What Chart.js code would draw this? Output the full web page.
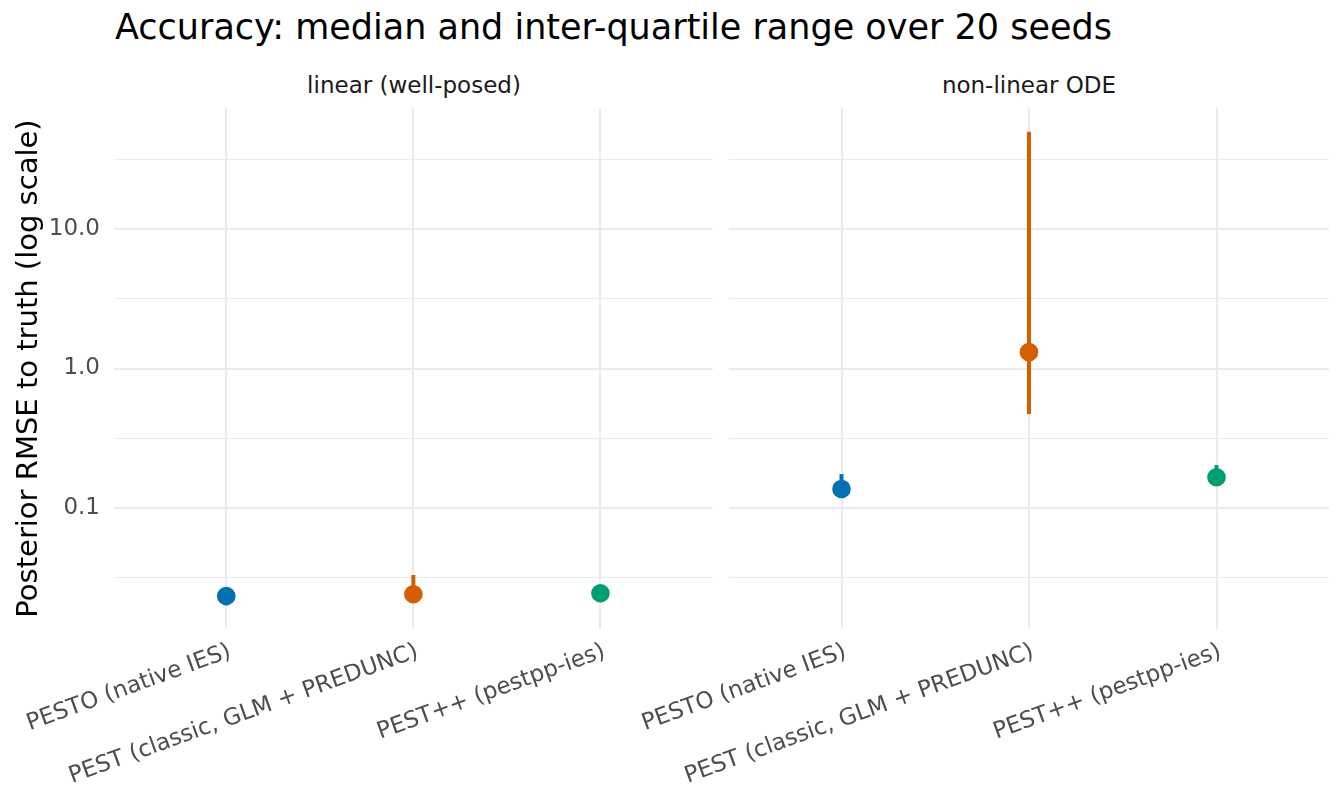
<!DOCTYPE html>
<html><head><meta charset="utf-8">
<script src="https://cdn.jsdelivr.net/npm/chart.js@4"></script>
<style>
html,body{margin:0;padding:0;background:#fff;}
body{width:1344px;height:806px;position:relative;overflow:hidden;font-family:"DejaVu Sans";}
canvas.c{position:absolute;top:0;}
#title{position:absolute;left:115px;top:10px;font-size:35px;line-height:1;color:#000;white-space:nowrap;}
.strip{position:absolute;top:74px;font-size:23px;line-height:1;color:#1A1A1A;white-space:nowrap;transform:translateX(-50%);}
</style></head><body>
<div id="title">Accuracy: median and inter-quartile range over 20 seeds</div>
<div class="strip" id="s1" style="left:414px"></div>
<div class="strip" id="s2" style="left:1029px"></div>
<canvas id="c1" class="c" style="left:0px" width="722" height="806"></canvas>
<canvas id="c2" class="c" style="left:600px" width="744" height="806"></canvas>
<script>
// ---- data ----
const methods = ["PESTO (native IES)", "PEST (classic, GLM + PREDUNC)", "PEST++ (pestpp-ies)"];
const panels = ["linear (well-posed)", "non-linear ODE"];
const colors = ["#0072B2", "#D55E00", "#009E73"];
const linearMedian = [0.0234, 0.0241, 0.0245];
const linearQ1 = [0.0201, 0.0218, 0.0226];
const linearQ3 = [0.0262, 0.0331, 0.0262];
const odeMedian = [0.137, 1.31, 0.166];
const odeQ1 = [0.121, 0.472, 0.150];
const odeQ3 = [0.175, 49.8, 0.203];
const yMajorTicks = [0.1, 1, 10];
const yMinorTicks = [0.0316, 0.316, 3.16, 31.6];
const yTitle = "Posterior RMSE to truth (log scale)";

document.getElementById('s1').textContent = panels[0];
document.getElementById('s2').textContent = panels[1];

Chart.defaults.font.family = "DejaVu Sans";
const GRID = '#EBEBEB';

function makeChart(id, med, q1, q3, showY, axisWidth, padRight) {
  const datasets = methods.map((m, i) => ({
    type: 'line',
    data: [{x: i + 1, y: q1[i]}, {x: i + 1, y: q3[i]}],
    borderColor: colors[i], borderWidth: 4, pointRadius: 0,
    borderCapStyle: 'butt', order: 1
  }));
  datasets.push({
    type: 'scatter',
    data: med.map((v, i) => ({x: i + 1, y: v})),
    pointRadius: 9.3, pointBackgroundColor: colors, pointBorderWidth: 0,
    pointHoverRadius: 9.3, order: 0
  });
  return new Chart(document.getElementById(id), {
    data: {datasets},
    options: {
      responsive: false, animation: false, devicePixelRatio: 1,
      layout: {padding: {top: 108, right: padRight, left: 0, bottom: 0}},
      plugins: {legend: {display: false}, tooltip: {enabled: false}},
      scales: {
        x: {
          type: 'linear', min: 0.4, max: 3.6,
          afterBuildTicks: s => { s.ticks = [1, 2, 3].map(v => ({value: v})); },
          ticks: {
            callback: v => methods[Math.round(v) - 1],
            minRotation: 20, maxRotation: 20, autoSkip: false,
            font: {size: 23}, color: '#4D4D4D', padding: 9, labelOffset: 4
          },
          grid: {color: GRID, lineWidth: 2, drawTicks: false},
          border: {display: false},
          afterFit: s => { s.height = 177; s.paddingLeft = 0; s.paddingRight = 0; }
        },
        y: {
          type: 'logarithmic',
          min: Math.pow(10, -1.8674), max: Math.pow(10, 1.8674),
          afterBuildTicks: s => {
            s.ticks = yMinorTicks.concat(yMajorTicks).sort((a, b) => a - b).map(v => ({value: v}));
          },
          ticks: {
            display: showY,
            callback: v => yMajorTicks.includes(v) ? v.toFixed(1) : '',
            font: {size: 23}, color: '#4D4D4D', padding: 14
          },
          grid: {
            color: GRID, drawTicks: false,
            lineWidth: c => (c.tick && yMajorTicks.includes(c.tick.value)) ? 2 : 1
          },
          border: {display: false},
          title: {display: showY, text: yTitle, font: {size: 29}, color: '#000', padding: {top: 12, bottom: 0}},
          afterFit: s => { s.width = axisWidth; }
        }
      }
    }
  });
}

makeChart('c1', linearMedian, linearQ1, linearQ3, true, 114, 8);
makeChart('c2', odeMedian, odeQ1, odeQ3, false, 129, 15);
</script>
</body></html>
